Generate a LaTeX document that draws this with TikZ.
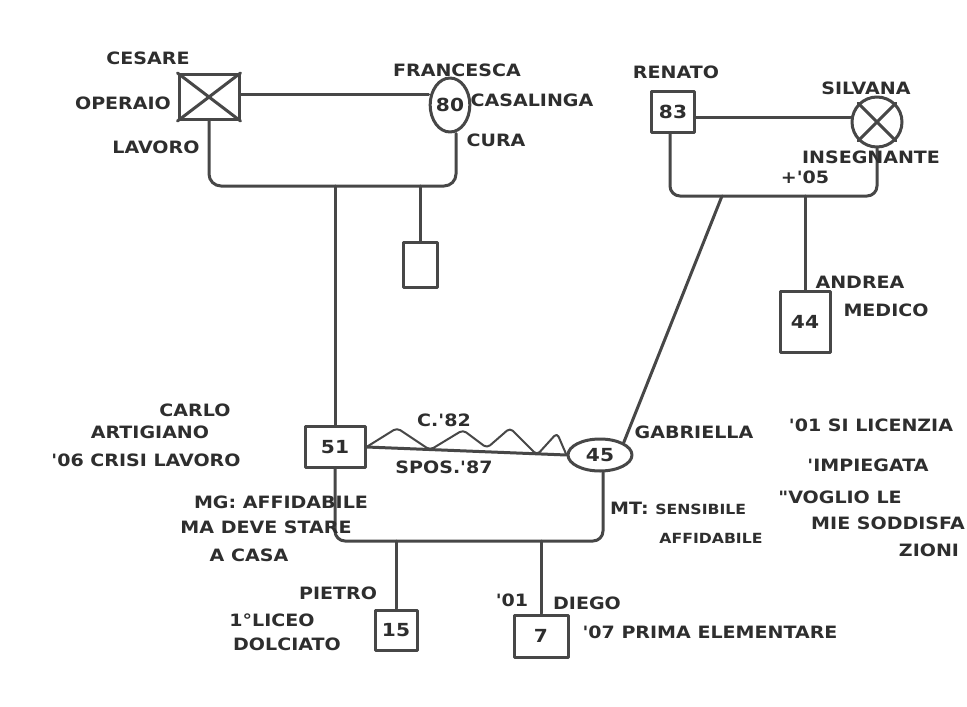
\documentclass[tikz,border=0pt]{standalone}
\usepackage{fontspec}
\newfontfamily\hand[FakeStretch=1.12]{DejaVu Sans}
\usetikzlibrary{shapes.geometric}
\tikzset{
  ln/.style={draw=black!72, line width=3pt, line cap=round, line join=round},
  sq/.style={ln, rectangle, inner sep=0pt, font=\hand\bfseries\fontsize{18}{20}\selectfont, text=black!82},
  el/.style={ln, ellipse, inner sep=0pt, font=\hand\bfseries\fontsize{18}{20}\selectfont, text=black!82},
  lbl/.style={font=\hand\bfseries\fontsize{17}{19}\selectfont, text=black!82, inner sep=0pt, align=center},
  sml/.style={font=\hand\bfseries\fontsize{14}{16}\selectfont, text=black!82, inner sep=0pt, align=center}
}
\begin{document}
\begin{tikzpicture}[x=1pt,y=-1pt]
\useasboundingbox (0,0) rectangle (967,707);
\fill[white] (0,0) rectangle (967,707);

% ---- generation 1, left
\node[sq, minimum width=60, minimum height=45] (cesare) at (209,97) {};
\draw[ln] (cesare.north west) -- (cesare.south east) (cesare.south west) -- (cesare.north east);
\node[el, minimum width=36, minimum height=54] (francesca) at (450,105) {80};
\draw[ln] ([yshift=3pt]cesare.east) -- ([yshift=3pt]cesare.east -| francesca.west);
\coordinate (cf) at (330,186);
\draw[ln, rounded corners=12] (cesare.south) |- (cf) -| ([xshift=6pt]francesca.south);

\node[sq, minimum width=34, minimum height=45] (unk) at (420,265) {};
\draw[ln] (unk.north |- cf) -- (unk.north);

% ---- generation 1, right
\node[sq, minimum width=43, minimum height=41] (renato) at (673,112) {83};
\node[ln, circle, minimum size=50, inner sep=0pt] (silvana) at (877,122) {};
\draw[ln] (silvana.north west) -- (silvana.south east) (silvana.south west) -- (silvana.north east);
\draw[ln] ([yshift=-5pt]renato.east) -- ([yshift=-5pt]renato.east -| silvana.west);
\coordinate (rs) at (760,196);
\draw[ln, rounded corners=10] ([xshift=-3pt]renato.south) |- (rs) -| (silvana.south);

\node[sq, minimum width=50, minimum height=61] (andrea) at (805,322) {44};
\draw[ln] (andrea.north |- rs) -- (andrea.north);

% ---- generation 2
\node[sq, minimum width=60, minimum height=41] (carlo) at (335,447) {51};
\node[el, minimum width=64, minimum height=32] (gabriella) at (600,455) {45};
\draw[ln] (carlo.north |- cf) -- (carlo.north);
\coordinate (gd) at (722,196);
\draw[ln] (gd) -- (gabriella.north east);
\draw[ln] (carlo.east) -- (gabriella.west);
\draw[draw=black!72, line width=2pt, line join=round, rounded corners=4]
  (carlo.east) -- (397,428) -- (430,450) -- (463,430) -- (487,448) -- (510,428) -- (537,455) -- (557,433) -- (gabriella.west);
\coordinate (cg) at (470,541);
\draw[ln, rounded corners=10] (carlo.south) |- (cg) -| ([xshift=3pt]gabriella.south);

% ---- generation 3
\node[sq, minimum width=42, minimum height=40] (pietro) at (396,630) {15};
\draw[ln] (pietro.north |- cg) -- (pietro.north);
\node[sq, minimum width=54, minimum height=42] (diego) at (541,636) {7};
\draw[ln] (diego.north |- cg) -- (diego.north);

% ---- labels
\node[lbl] (lcesare) at (148,58) {CESARE};
\node[lbl] (loperaio) at (123,103) {OPERAIO};
\node[lbl] (llavoro) at (156,147) {LAVORO};
\node[lbl] (lfrancesca) at (457,70) {FRANCESCA};
\node[lbl] (lcasalinga) at (532,100) {CASALINGA};
\node[lbl] (lcura) at (496,140) {CURA};
\node[lbl] (lrenato) at (676,72) {RENATO};
\node[lbl] (lsilvana) at (866,88) {SILVANA};
\node[lbl] (linsegnante) at (871,157) {INSEGNANTE};
\node[lbl] (lmorte) at (805,177) {+'05};
\node[lbl] (landrea) at (860,282) {ANDREA};
\node[lbl] (lmedico) at (886,310) {MEDICO};
\node[lbl] (lcarlo) at (195,410) {CARLO};
\node[lbl] (lartigiano) at (150,432) {ARTIGIANO};
\node[lbl] (lcrisi) at (146,460) {'06 CRISI LAVORO};
\node[lbl] (lconv) at (444,420) {C.'82};
\node[lbl] (lspos) at (444,467) {SPOS.'87};
\node[lbl] (lmg1) at (281,502) {MG: AFFIDABILE};
\node[lbl] (lmg2) at (266,527) {MA DEVE STARE};
\node[lbl] (lmg3) at (249,555) {A CASA};
\node[lbl] (lgabriella) at (694,432) {GABRIELLA};
\node[lbl] (lg1) at (871,425) {'01 SI LICENZIA};
\node[lbl] (lg2) at (868,465) {'IMPIEGATA};
\node[lbl] (lg3) at (840,497) {"VOGLIO LE};
\node[lbl] (lg4) at (888,523) {MIE SODDISFA};
\node[lbl] (lg5) at (929,550) {ZIONI};
\node[lbl, anchor=west] (lmt1) at (610,508) {MT: {\fontsize{14}{16}\selectfont SENSIBILE}};
\node[sml] (lmt2) at (711,538) {AFFIDABILE};
\node[lbl] (lpietro) at (338,593) {PIETRO};
\node[lbl] (lliceo) at (272,620) {1°LICEO};
\node[lbl] (ldolc) at (287,644) {DOLCIATO};
\node[lbl] (l01) at (512,600) {'01};
\node[lbl] (ldiego) at (587,603) {DIEGO};
\node[lbl] (lelem) at (710,632) {'07 PRIMA ELEMENTARE};
\end{tikzpicture}
\end{document}
